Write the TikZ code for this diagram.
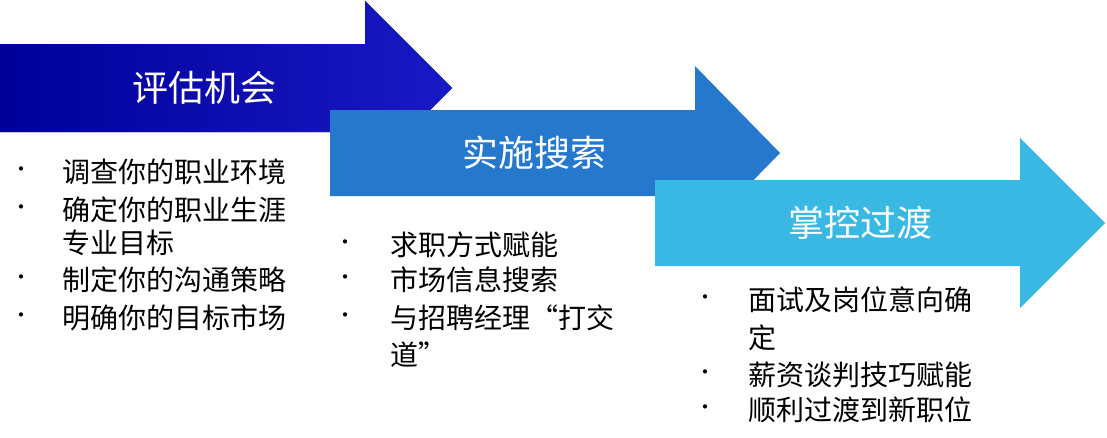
\documentclass[tikz,border=0pt]{standalone}
\usepackage{fontspec}
\setmainfont{Noto Sans CJK SC}
\begin{document}
\begin{tikzpicture}[x=1pt,y=-1pt,
  title/.style={text=white,font=\fontsize{36}{40}\selectfont,anchor=center},
  item/.style={anchor=west,font=\fontsize{28}{32}\selectfont,inner sep=0},
  dot/.style={anchor=center,font=\fontsize{20}{24}\selectfont,inner sep=0}]
\useasboundingbox (0,0) rectangle (1107,437);
\fill[left color=blue!60!black,right color=blue!75!black!90] (0,44) -- (365,44) -- (365,1) -- (452,88) -- (365,175) -- (365,132) -- (0,132) -- cycle;
\node[title] (t1) at (204,88) {评估机会};
\fill[color={rgb,255:red,38;green,120;blue,204}] (330,110) -- (695,110) -- (695,66) -- (780,153) -- (695,240) -- (695,196) -- (330,196) -- cycle;
\node[title] (t2) at (534,153) {实施搜索};
\fill[color={rgb,255:red,56;green,184;blue,226}] (655,180) -- (1020,180) -- (1020,138) -- (1105,223) -- (1020,308) -- (1020,266) -- (655,266) -- cycle;
\node[title] (t3) at (860,223) {掌控过渡};
% list 1
\foreach \y/\t [count=\i] in {172/调查你的职业环境,210/确定你的职业生涯,243/专业目标,280/制定你的沟通策略,318/明确你的目标市场}{
  \node[item] (a\i) at (62,\y) {\t};}
\foreach \y [count=\i] in {172,210,280,318}{\node[dot] (ad\i) at (22,\y) {•};}
% list 2
\foreach \y/\t [count=\i] in {245/求职方式赋能,280/市场信息搜索,318/与招聘经理“打交,355/道”}{
  \node[item] (b\i) at (390,\y) {\t};}
\foreach \y [count=\i] in {245,280,318}{\node[dot] (bd\i) at (345,\y) {•};}
% list 3
\foreach \y/\t [count=\i] in {300/面试及岗位意向确,338/定,375/薪资谈判技巧赋能,410/顺利过渡到新职位}{
  \node[item] (c\i) at (748,\y) {\t};}
\foreach \y [count=\i] in {300,375,410}{\node[dot] (cd\i) at (705,\y) {•};}
\end{tikzpicture}
\end{document}
